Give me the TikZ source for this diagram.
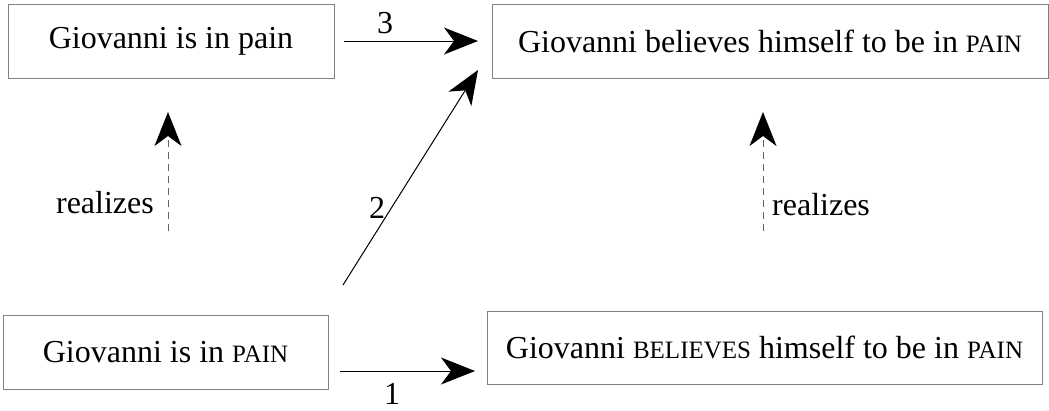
\documentclass[tikz,border=0pt]{standalone}
\usepackage{fontspec}
\setmainfont{Liberation Serif}
\usetikzlibrary{arrows.meta}
\newcommand{\smallcap}[1]{{\fontsize{25}{25}\selectfont #1}}
\tikzset{
  statebox/.style={draw=black!50, line width=1pt, inner sep=0pt, font=\fontsize{32}{36}\selectfont},
  lbl/.style={font=\fontsize{32}{36}\selectfont, inner sep=0pt},
  bigtip/.style={-{Stealth[length=34pt,width=27pt,inset=10pt,color=black]}},
  causal/.style={bigtip, line width=1pt, black},
  realize/.style={bigtip, line width=1pt, black!60, dash pattern=on 7pt off 5pt}
}
\begin{document}
\begin{tikzpicture}[x=1pt,y=-1pt]
\useasboundingbox (0,0) rectangle (1049,410);

% the four statements
\node[statebox, minimum width=326pt, minimum height=74pt] (pain) at (171,41) {Giovanni is in pain};
\node[statebox, minimum width=556pt, minimum height=74pt] (bel) at (770,41) {Giovanni believes himself to be in \smallcap{PAIN}};
\node[statebox, minimum width=325pt, minimum height=74pt] (PAIN) at (165.5,352) {Giovanni is in \smallcap{PAIN}};
\node[statebox, minimum width=555pt, minimum height=73pt] (BEL) at (764.5,347.5) {Giovanni \smallcap{BELIEVES} himself to be in \smallcap{PAIN}};

% free ends of the connectors
\coordinate (c1s) at (340,371);
\coordinate (c1e) at (475,371);
\coordinate (c2s) at (343,285);
\coordinate (c2e) at (478,70);
\coordinate (c3s) at (344,41);
\coordinate (c3e) at (478,41);
\coordinate (r1s) at (168,231);
\coordinate (r1e) at (168,112);
\coordinate (r2s) at (763,231);
\coordinate (r2e) at (763,112);

% causal links
\draw[causal] (c3s) -- (c3e);
\draw[causal] (c2s) -- (c2e);
\draw[causal] (c1s) -- (c1e);

% realization links
\draw[realize] (r1s) -- (r1e);
\draw[realize] (r2s) -- (r2e);

% labels
\node[lbl] (n3) at (385,23) {3};
\node[lbl] (n2) at (377,208) {2};
\node[lbl] (n1) at (392,394) {1};
\node[lbl, anchor=east] (rz1) at (154,203) {realizes};
\node[lbl, anchor=west] (rz2) at (772,205) {realizes};
\end{tikzpicture}
\end{document}
